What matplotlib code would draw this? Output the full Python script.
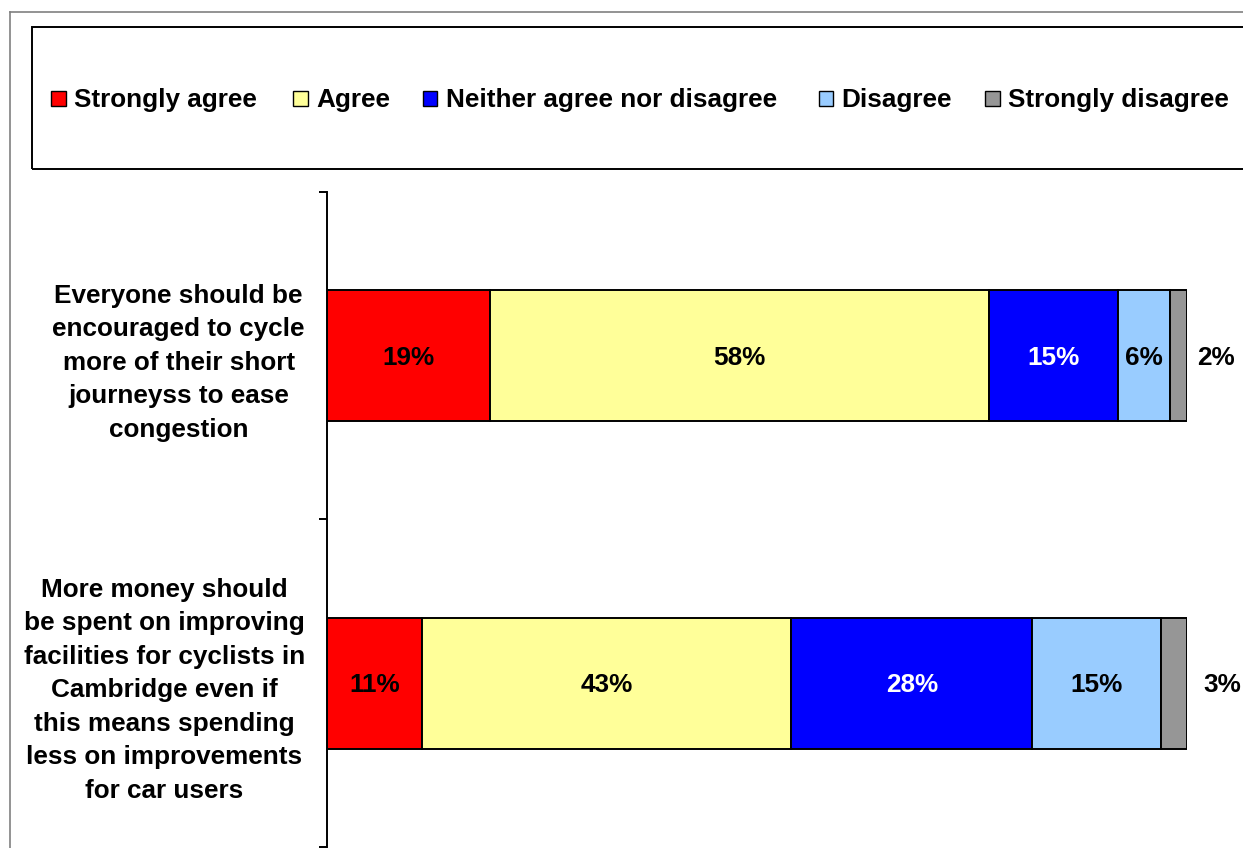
import matplotlib
matplotlib.use("Agg")
import matplotlib.pyplot as plt
from matplotlib.patches import Rectangle
from matplotlib.lines import Line2D
import numpy as np

# ---------------- data ----------------
categories = [
    "More money should\nbe spent on improving\nfacilities for cyclists in\nCambridge even if\nthis means spending\nless on improvements\nfor car users",
    "Everyone should be\nencouraged to cycle\nmore of their short\njourneyss to ease\ncongestion",
]
series_names = ["Strongly agree", "Agree", "Neither agree nor disagree",
                "Disagree", "Strongly disagree"]
strongly_agree = [11, 19]
agree = [43, 58]
neither = [28, 15]
disagree = [15, 6]
strongly_disagree = [3, 2]
series_values = [strongly_agree, agree, neither, disagree, strongly_disagree]

# ---------------- style ----------------
colors = ["#FF0000", "#FFFF99", "#0000FF", "#99CCFF", "#969696"]
label_colors = ["black", "black", "white", "black", "black"]
FONT = "Liberation Sans"
FS = 18.8

W, H = 1243, 848
fig = plt.figure(figsize=(W / 100, H / 100), dpi=100)
plt.rcParams["font.family"] = [FONT, "DejaVu Sans"]
plt.rcParams["font.weight"] = "bold"


def fx(px):
    return px / W


def fy(py):
    return 1 - py / H


ax = fig.add_axes([fx(327), fy(848) + 0.0012, fx(1187) - fx(327), fy(192) - fy(848) - 0.0012])

y = np.arange(len(categories))
left = np.zeros(len(categories))
for name, vals, c, tc in zip(series_names, series_values, colors, label_colors):
    vals = np.array(vals, dtype=float)
    bars = ax.barh(y, vals, left=left, height=0.4, color=c, edgecolor="black",
                   linewidth=1.4, label=name)
    for i, (b, v) in enumerate(zip(bars, vals)):
        txt = f"{int(v)}%"
        if v < 4:
            # small segment: label outside to the right of bar
            ax.annotate(txt, xy=(100, y[i]), xytext=(10 + 6 * (v - 2), -9),
                        textcoords="offset pixels", ha="left", va="baseline",
                        fontsize=FS, fontweight="bold", color="black",
                        annotation_clip=False)
        else:
            ax.annotate(txt, xy=(left[i] + v / 2, y[i]), xytext=(0, -9),
                        textcoords="offset pixels", ha="center", va="baseline",
                        fontsize=FS, fontweight="bold", color=tc)
    left += vals

ax.set_xlim(0, 100)
ax.set_ylim(-0.5, 1.5)
for s in ["top", "right", "bottom"]:
    ax.spines[s].set_visible(False)
ax.spines["left"].set_linewidth(1.4)
ax.xaxis.set_visible(False)

ax.set_yticks([-0.5, 0.5, 1.5])
ax.set_yticklabels([])
ax.tick_params(axis="y", which="major", direction="out", length=6, width=1.4)
ax.set_yticks(y, minor=True)
ax.set_yticklabels(categories, minor=True, fontsize=FS, fontweight="bold",
                   ha="right", multialignment="center", linespacing=1.5)
ax.tick_params(axis="y", which="minor", length=0, pad=(327 - 305) * 0.72)

# ---------------- outer frame ----------------
fig.add_artist(Line2D([fx(9.5), fx(9.5)], [fy(12), 0], transform=fig.transFigure,
                      color="#808080", lw=1.2))
fig.add_artist(Line2D([fx(9.5), 1], [fy(12), fy(12)], transform=fig.transFigure,
                      color="#808080", lw=1.2))

# ---------------- legend ----------------
fig.add_artist(Rectangle((fx(31.5), fy(168.5)), fx(1260) - fx(31.5), fy(27.5) - fy(168.5),
                         transform=fig.transFigure, fill=False, edgecolor="black",
                         lw=1.4, clip_on=False))
sq_x = [51, 293, 423, 818.5, 985]
tx_x = [74, 316, 446.5, 841.5, 1008]
sq = 14.5
for name, c, sx, tx in zip(series_names, colors, sq_x, tx_x):
    fig.add_artist(Rectangle((fx(sx), fy(91 + sq)), sq / W, sq / H,
                             transform=fig.transFigure, facecolor=c,
                             edgecolor="black", lw=1.0))
    fig.text(fx(tx), fy(107), name, fontsize=FS, fontweight="bold",
             ha="left", va="baseline")

fig.savefig("out.png", dpi=100)
